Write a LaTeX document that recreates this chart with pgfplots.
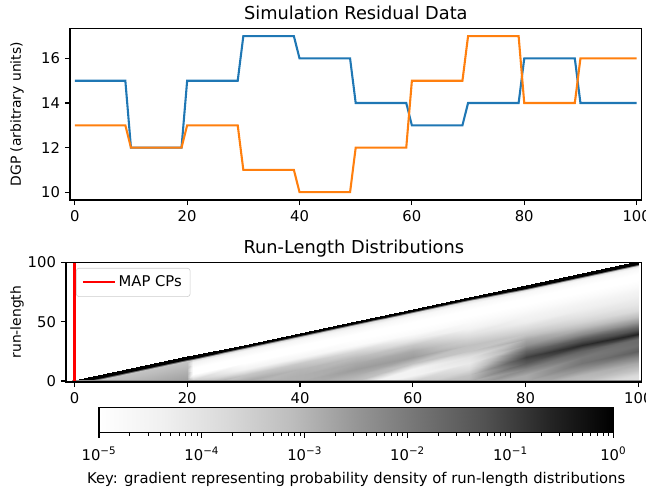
\documentclass[border=0pt]{standalone}
\usepackage{pgfplots}
\pgfplotsset{compat=1.18}
\usepackage{fontspec}
\setmainfont{DejaVu Sans}
\definecolor{c0}{HTML}{1F77B4}
\definecolor{c1}{HTML}{FF7F0E}
\pgfplotsset{
  colormap={greys}{rgb255=(255,255,255) rgb255=(240,240,240) rgb255=(217,217,217) rgb255=(189,189,189) rgb255=(150,150,150) rgb255=(115,115,115) rgb255=(82,82,82) rgb255=(37,37,37) rgb255=(0,0,0)},
  mpl/.style={
    scale only axis,
    axis line style={line width=0.8pt},
    tick align=outside,
    xtick pos=left, ytick pos=left,
    major tick length=3.7pt,
    minor tick length=2.3pt,
    every tick/.style={black, line width=0.8pt},
    every minor tick/.style={black, line width=0.7pt},
    /pgf/number format/assume math mode=true,
    tick label style={font=\fontsize{10.65}{12.5}\selectfont},
    label style={font=\fontsize{10.65}{12.5}\selectfont},
    every axis title/.style={font=\fontsize{12.8}{15}\selectfont, at={(0.5,1)}, anchor=base, yshift=6.5pt},
  }
}
\begin{document}
\begin{tikzpicture}
\useasboundingbox (0,0) rectangle (465.12pt,351.36pt);
% ---------------- top panel
\begin{axis}[mpl, at={(50.4pt,207.36pt)}, anchor=south west,
  width=411.6pt, height=123.6pt,
  xmin=-0.85, xmax=100.9, ymin=9.65, ymax=17.35,
  xtick={0,20,...,100}, ytick={10,12,14,16},
  title={Simulation Residual Data},
  ylabel={DGP (arbitrary units)},
  every axis y label/.style={at={(axis description cs:-0.0927,0.5)}, anchor=center, rotate=90},
]
\addplot[c0, line width=1.5pt] coordinates {(0,15)(9,15)(10,12)(19,12)(20,15)(29,15)(30,17)(39,17)(40,16)(49,16)(50,14)(59,14)(60,13)(69,13)(70,14)(79,14)(80,16)(89,16)(90,14)(100,14)};
\addplot[c1, line width=1.5pt] coordinates {(0,13)(9,13)(10,12)(19,12)(20,13)(29,13)(30,11)(39,11)(40,10)(49,10)(50,12)(59,12)(60,15)(69,15)(70,17)(79,17)(80,14)(89,14)(90,16)(100,16)};
\end{axis}
% ---------------- run-length panel
\begin{axis}[mpl, at={(47.52pt,76.32pt)}, anchor=south west,
  width=414.5pt, height=86.2pt,
  xmin=-1.5, xmax=100.6, ymin=-0.8, ymax=100,
  xtick={0,20,...,100}, ytick={0,50,100},
  title={Run-Length Distributions},
  ylabel={run-length},
  every axis y label/.style={at={(axis description cs:-0.0851,0.5)}, anchor=center, rotate=90},
  point meta min=-5, point meta max=0,
  axis on top,
  legend style={at={(axis description cs:0,1)}, anchor=north west, xshift=7.2pt, yshift=-4.1pt,
    draw=black!20, rounded corners=2pt, fill=white, inner xsep=4pt, inner ysep=3.5pt,
    font=\fontsize{10.65}{12.5}\selectfont},
  legend cell align=left,
  legend image code/.code={\draw[#1, line width=1.5pt] (0pt,0pt) -- (23pt,0pt);},
]
\addplot[surf, shader=interp, mesh/cols=12, mesh/rows=23, point meta=explicit, forget plot] coordinates {
(0,0.7)[0] (10,10.7)[0] (20,20.7)[0] (21,21.7)[0] (30,30.7)[0] (40,40.7)[0] (50,50.7)[0] (60,60.7)[0] (70,70.7)[0] (80,80.7)[0] (90,90.7)[0] (100,100.7)[0]
(0,-1.3)[0] (10,8.7)[0] (20,18.7)[0] (21,19.7)[0] (30,28.7)[0] (40,38.7)[0] (50,48.7)[0] (60,58.7)[0] (70,68.7)[0] (80,78.7)[0] (90,88.7)[0] (100,98.7)[0]
(0,-3)[-3.3] (10,7)[-3.3] (20,17)[-3.3] (21,18)[-3.8] (30,27)[-3.8] (40,37)[-3.8] (50,47)[-3.9] (60,57)[-4] (70,67)[-4] (80,77)[-4] (90,87)[-4] (100,97)[-4]
(0,-5)[-3.2] (10,5)[-3.2] (20,15)[-3.2] (21,16)[-4.5] (30,25)[-4.6] (40,35)[-4.6] (50,45)[-4.6] (60,55)[-4.7] (70,65)[-4.7] (80,75)[-4.7] (90,85)[-4.7] (100,95)[-4.7]
(0,-10)[-3] (10,0)[-3] (20,10)[-3] (21,11)[-5] (30,20)[-5] (40,30)[-5] (50,40)[-5] (60,50)[-5] (70,60)[-5] (80,70)[-5] (90,80)[-5] (100,90)[-5]
(0,-15)[-2.8] (10,-5)[-2.8] (20,5)[-2.8] (21,6)[-5] (30,15)[-5] (40,25)[-5] (50,35)[-5] (60,45)[-5] (70,55)[-5] (80,65)[-5] (90,75)[-5] (100,85)[-5]
(0,-20)[-2.6] (10,-10)[-2.6] (20,0)[-2.6] (21,1)[-3.5] (30,10)[-4.5] (40,20)[-4.6] (50,30)[-4.8] (60,40)[-4.8] (70,50)[-4.8] (80,60)[-4.8] (90,70)[-4.8] (100,80)[-4.8]
(0,-25)[-2.6] (10,-15)[-2.6] (20,-5)[-2.6] (21,-4)[-2.6] (30,5)[-3.3] (40,15)[-3.4] (50,25)[-3.7] (60,35)[-4.2] (70,45)[-4.5] (80,55)[-4.5] (90,65)[-4.5] (100,75)[-4.5]
(0,-30)[-2.8] (10,-20)[-2.8] (20,-10)[-2.8] (21,-9)[-2.8] (30,0)[-2.8] (40,10)[-3] (50,20)[-3.1] (60,30)[-3.3] (70,40)[-4] (80,50)[-4.3] (90,60)[-4.3] (100,70)[-4.3]
(0,-35)[-3] (10,-25)[-3] (20,-15)[-3] (21,-14)[-3] (30,-5)[-3] (40,5)[-2.9] (50,15)[-2.8] (60,25)[-2.8] (70,35)[-3.6] (80,45)[-3.8] (90,55)[-4] (100,65)[-4.1]
(0,-40)[-3] (10,-30)[-3] (20,-20)[-3] (21,-19)[-3] (30,-10)[-3] (40,0)[-2.9] (50,10)[-2.6] (60,20)[-2.6] (70,30)[-3.2] (80,40)[-3.3] (90,50)[-3.6] (100,60)[-3.8]
(0,-45)[-3] (10,-35)[-3] (20,-25)[-3] (21,-24)[-3] (30,-15)[-3] (40,-5)[-3] (50,5)[-2.9] (60,15)[-3.2] (70,25)[-3.3] (80,35)[-2.8] (90,45)[-3] (100,55)[-3.2]
(0,-50)[-3.2] (10,-40)[-3.2] (20,-30)[-3.2] (21,-29)[-3.2] (30,-20)[-3.2] (40,-10)[-3.2] (50,0)[-3.2] (60,10)[-4.5] (70,20)[-4] (80,30)[-2.4] (90,40)[-2.3] (100,50)[-2.5]
(0,-55)[-4.5] (10,-45)[-4.5] (20,-35)[-4.5] (21,-34)[-4.5] (30,-25)[-4.5] (40,-15)[-4.5] (50,-5)[-4.5] (60,5)[-4.5] (70,15)[-4.2] (80,25)[-1.6] (90,35)[-1.4] (100,45)[-1.5]
(0,-60)[-3.5] (10,-50)[-3.5] (20,-40)[-3.5] (21,-39)[-3.5] (30,-30)[-3.5] (40,-20)[-3.5] (50,-10)[-3.5] (60,0)[-3.5] (70,10)[-3.8] (80,20)[-1] (90,30)[-0.7] (100,40)[-0.6]
(0,-65)[-3.2] (10,-55)[-3.2] (20,-45)[-3.2] (21,-44)[-3.2] (30,-35)[-3.2] (40,-25)[-3.2] (50,-15)[-3.2] (60,-5)[-3.2] (70,5)[-3.2] (80,15)[-1.4] (90,25)[-1.6] (100,35)[-1.7]
(0,-70)[-3] (10,-60)[-3] (20,-50)[-3] (21,-49)[-3] (30,-40)[-3] (40,-30)[-3] (50,-20)[-3] (60,-10)[-3] (70,0)[-3] (80,10)[-2.2] (90,20)[-2] (100,30)[-1.8]
(0,-75)[-2.8] (10,-65)[-2.8] (20,-55)[-2.8] (21,-54)[-2.8] (30,-45)[-2.8] (40,-35)[-2.8] (50,-25)[-2.8] (60,-15)[-2.8] (70,-5)[-2.8] (80,5)[-2.8] (90,15)[-1.9] (100,25)[-1.5]
(0,-80)[-2.8] (10,-70)[-2.8] (20,-60)[-2.8] (21,-59)[-2.8] (30,-50)[-2.8] (40,-40)[-2.8] (50,-30)[-2.8] (60,-20)[-2.8] (70,-10)[-2.8] (80,0)[-2.8] (90,10)[-2.4] (100,20)[-2.2]
(0,-85)[-3] (10,-75)[-3] (20,-65)[-3] (21,-64)[-3] (30,-55)[-3] (40,-45)[-3] (50,-35)[-3] (60,-25)[-3] (70,-15)[-3] (80,-5)[-3] (90,5)[-3] (100,15)[-2.8]
(0,-90)[-3.2] (10,-80)[-3.2] (20,-70)[-3.2] (21,-69)[-3.2] (30,-60)[-3.2] (40,-50)[-3.2] (50,-40)[-3.2] (60,-30)[-3.2] (70,-20)[-3.2] (80,-10)[-3.2] (90,0)[-3.2] (100,10)[-3.2]
(0,-95)[-3.8] (10,-85)[-3.8] (20,-75)[-3.8] (21,-74)[-3.8] (30,-65)[-3.8] (40,-55)[-3.8] (50,-45)[-3.8] (60,-35)[-3.8] (70,-25)[-3.8] (80,-15)[-3.8] (90,-5)[-3.8] (100,5)[-3.8]
(0,-100)[-4] (10,-90)[-4] (20,-80)[-4] (21,-79)[-4] (30,-70)[-4] (40,-60)[-4] (50,-50)[-4] (60,-40)[-4] (70,-30)[-4] (80,-20)[-4] (90,-10)[-4] (100,0)[-4]
};
\addplot[draw=none, fill=black!45, forget plot] coordinates {(-0.5,-0.8) (100.6,-0.8) (100.6,1.3) (-0.5,1.3)} -- cycle;
\addplot[red, line width=1.5pt] coordinates {(0,-0.8) (0,100)};
\addlegendentry{MAP CPs}
\end{axis}
% ---------------- colour key (axis in decades: -5 = 10^-5 ... 0 = 10^0)
\begin{axis}[mpl, at={(71.28pt,39.8pt)}, anchor=south west,
  width=370.3pt, height=18.3pt,
  xmin=-5, xmax=0, ymin=0, ymax=1, ytick=\empty,
  xtick={-5,-4,-3,-2,-1,0},
  xticklabels={10\textsuperscript{−5},10\textsuperscript{−4},10\textsuperscript{−3},10\textsuperscript{−2},10\textsuperscript{−1},10\textsuperscript{0}},
  minor xtick={-4.699,-4.523,-4.398,-4.301,-4.222,-4.155,-4.097,-4.046,
               -3.699,-3.523,-3.398,-3.301,-3.222,-3.155,-3.097,-3.046,
               -2.699,-2.523,-2.398,-2.301,-2.222,-2.155,-2.097,-2.046,
               -1.699,-1.523,-1.398,-1.301,-1.222,-1.155,-1.097,-1.046,
               -0.699,-0.523,-0.398,-0.301,-0.222,-0.155,-0.097,-0.046},
  xticklabel style={yshift=-3pt},
  xlabel={Key: gradient representing probability density of run-length distributions},
  xlabel style={yshift=-2pt},
  point meta min=-5, point meta max=0,
  axis on top,
]
\addplot[patch, shader=interp, point meta=explicit] coordinates {
(-5,0)[-5] (0,0)[0] (0,1)[0]
(-5,0)[-5] (0,1)[0] (-5,1)[-5]
};
\end{axis}
\end{tikzpicture}
\end{document}
